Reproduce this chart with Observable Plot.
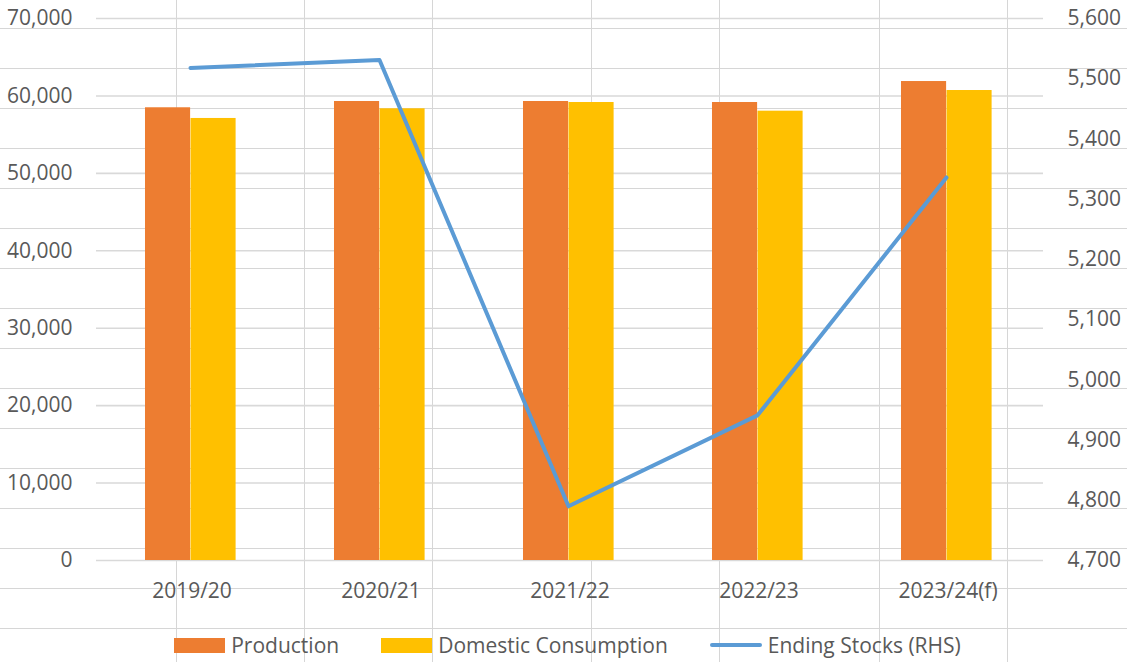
<!DOCTYPE html>
<html>
<head>
<meta charset="utf-8">
<script src="https://cdn.jsdelivr.net/npm/d3@7"></script>
<script src="https://cdn.jsdelivr.net/npm/@observablehq/plot@0.6"></script>
<style>
  html, body { margin: 0; padding: 0; background: #ffffff; }
  #wrap { position: relative; width: 1127px; height: 662px; overflow: hidden; font-family: "Open Sans", sans-serif; }
  #cells { position: absolute; left: 0; top: 0; width: 1127px; height: 662px; }
  #cells div { position: absolute; background: #d6d6d6; }
  #chart { position: absolute; left: 0; top: 0; }
  #legend { position: absolute; left: 4px; top: 630px; width: 1127px; height: 30px; display: flex; align-items: center; justify-content: center; color: #595959; font-size: 21px; }
  .item { display: flex; align-items: center; margin: 0 21px; }
  .sw { width: 51px; height: 15px; margin-right: 6px; }
  .ln { width: 52px; height: 4px; margin-right: 6px; border-radius: 2px; }
</style>
</head>
<body>
<div id="wrap">
  <div id="cells"></div>
  <div id="chart"></div>
  <div id="legend"></div>
</div>
<script>
// ---- data ----
const categories = ["2019/20", "2020/21", "2021/22", "2022/23", "2023/24(f)"];
const production = [58470, 59280, 59280, 59150, 61860];
const consumption = [57090, 58340, 59150, 58030, 60700];
const endingStocks = [5518, 5531, 4790, 4941, 5336];
const leftTicks = [0, 10000, 20000, 30000, 40000, 50000, 60000, 70000];
const rightTicks = [4700, 4800, 4900, 5000, 5100, 5200, 5300, 5400, 5500, 5600];
const seriesNames = ["Production", "Domestic Consumption", "Ending Stocks (RHS)"];
const seriesColors = ["#ED7D31", "#FFC000", "#5B9BD5"];

// spreadsheet cell grid seen behind the chart
const cellCols = [176, 304, 432, 591, 719, 879, 1007];
const cellRows = d3.range(28, 662, 40);

const cells = document.getElementById("cells");
cellCols.forEach(x => { const d = document.createElement("div"); d.style.cssText = `left:${x}px;top:0;width:1px;height:662px`; cells.appendChild(d); });
cellRows.forEach(y => { const d = document.createElement("div"); d.style.cssText = `left:0;top:${y}px;width:1127px;height:1px`; cells.appendChild(d); });

// ---- chart ----
const W = 1127, H = 612, ml = 96, mr = 84, mt = 18, mb = 52;
const lMin = 0, lMax = 70000, rMin = 4700, rMax = 5600;
const toLeft = s => (s - rMin) / (rMax - rMin) * (lMax - lMin) + lMin;
const toRight = v => (v - lMin) / (lMax - lMin) * (rMax - rMin) + rMin;

const data = categories.map((c, i) => ({cat: c, prod: production[i], cons: consumption[i], stocks: endingStocks[i]}));
const bw = (W - ml - mr) / categories.length;
const fmt = d3.format(",");

const plot = Plot.plot({
  width: W, height: H,
  marginLeft: ml, marginRight: mr, marginTop: mt, marginBottom: mb,
  style: {background: "transparent", color: "#595959", fontFamily: "Open Sans, sans-serif", fontSize: "21px", overflow: "visible"},
  x: {domain: categories, padding: 0},
  y: {domain: [lMin, lMax]},
  marks: [
    Plot.gridY(leftTicks, {stroke: "#d9d9d9", strokeOpacity: 1, strokeWidth: 1.6}),
    Plot.barY(data, {x: "cat", y: "prod", fill: seriesColors[0], insetLeft: 0.2534 * bw, insetRight: 0.5063 * bw}),
    Plot.barY(data, {x: "cat", y: "cons", fill: seriesColors[1], insetLeft: 0.4937 * bw, insetRight: 0.2661 * bw}),
    Plot.line(data, {x: "cat", y: d => toLeft(d.stocks), stroke: seriesColors[2], strokeWidth: 4, strokeLinecap: "round", strokeLinejoin: "round", dx: -1.5}),
    Plot.axisY(leftTicks, {anchor: "left", tickSize: 0, tickPadding: 24, tickFormat: fmt, label: null}),
    Plot.axisY(rightTicks.map(toLeft), {anchor: "right", tickSize: 0, tickPadding: 24, tickFormat: v => fmt(Math.round(toRight(v))), label: null}),
    Plot.axisX({tickSize: 0, tickPadding: 23, label: null})
  ]
});
document.getElementById("chart").appendChild(plot);

// ---- legend ----
const legend = document.getElementById("legend");
seriesNames.forEach((name, i) => {
  const item = document.createElement("div");
  item.className = "item";
  const sw = document.createElement("div");
  sw.className = i < 2 ? "sw" : "ln";
  sw.style.background = seriesColors[i];
  const t = document.createElement("span");
  t.textContent = name;
  item.appendChild(sw); item.appendChild(t);
  legend.appendChild(item);
});
</script>
</body>
</html>
